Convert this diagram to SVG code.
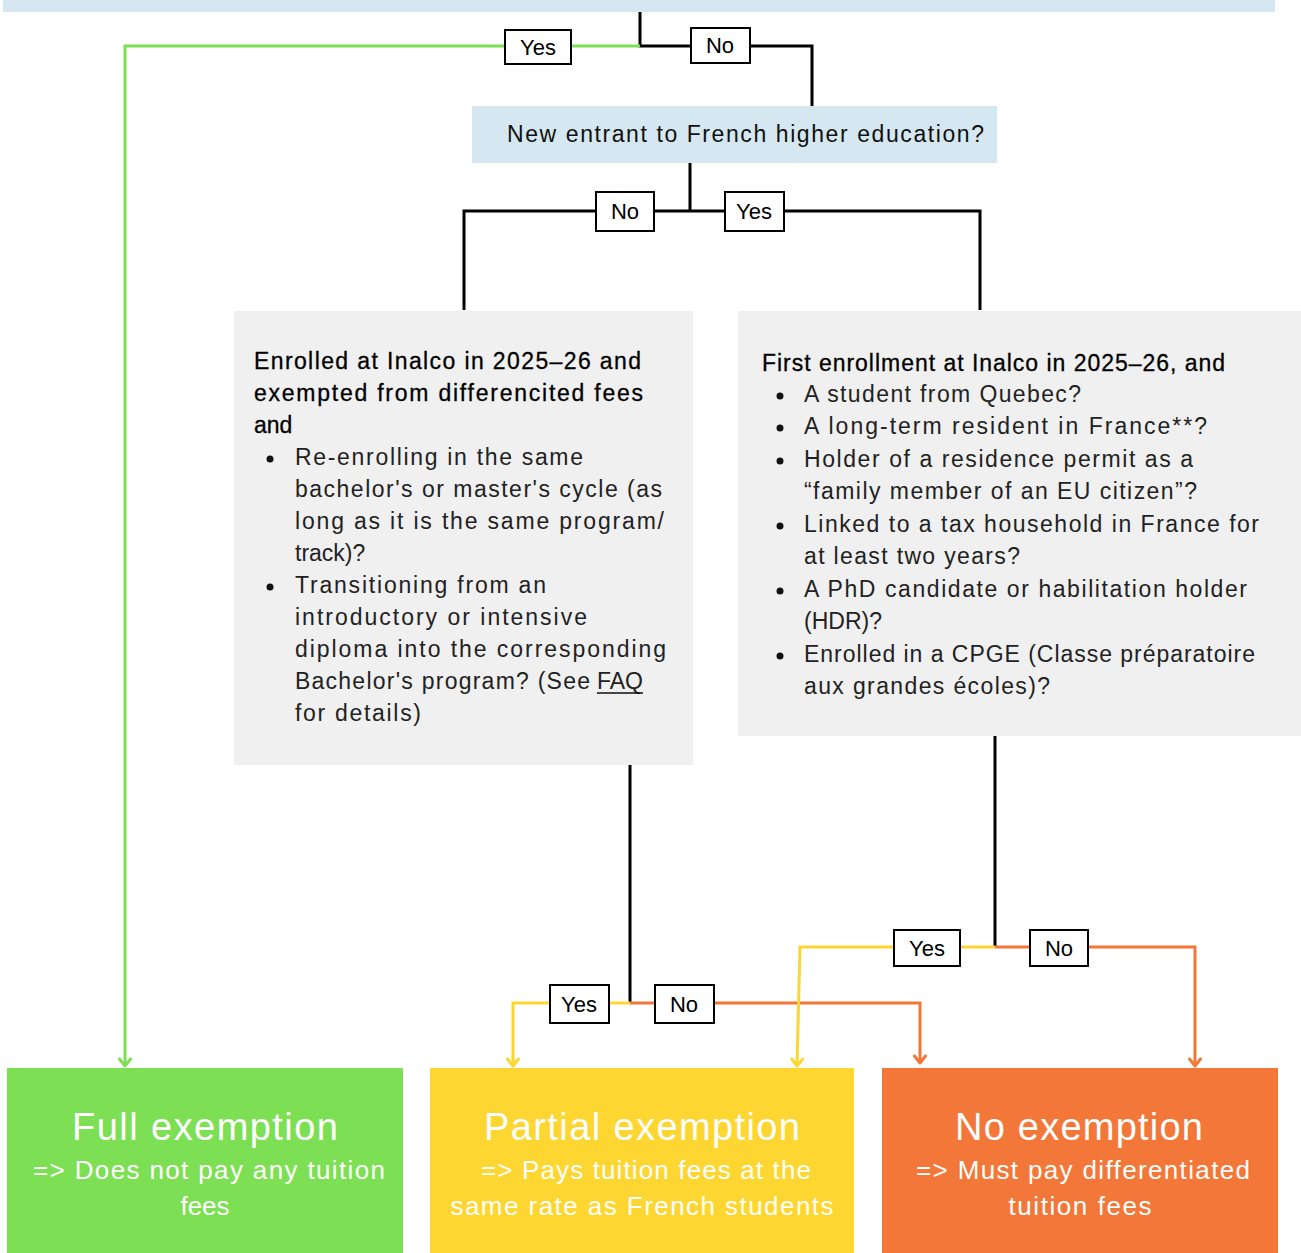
<svg xmlns="http://www.w3.org/2000/svg" width="1301" height="1253" viewBox="0 0 1301 1253">
<style>
  text { font-family: "Liberation Sans", Arial, sans-serif; }
  .q { fill: #d5e7f0; }
  .g { fill: #f0f0f0; }
  .t { font-size: 23px; fill: #111; }
  .h { font-size: 23px; fill: #000; stroke: #000; stroke-width: 0.3; }
  .b { font-size: 23px; fill: #222; }
  .lbl rect { fill: #fff; stroke: #000; stroke-width: 2; }
  .lbl text { font-size: 22px; fill: #000; text-anchor: middle; }
  .k { fill: none; stroke: #000; stroke-width: 3; }
  .cg { fill: none; stroke: #7ddf53; stroke-width: 3; }
  .cy { fill: none; stroke: #fed631; stroke-width: 3; }
  .co { fill: none; stroke: #f37739; stroke-width: 3; }
  .title { font-size: 38px; fill: #fff; text-anchor: middle; }
  .sub { font-size: 26px; fill: #fff; text-anchor: middle; }
</style>
<defs>
  <marker id="ag" viewBox="-9 -7 11 14" refX="0" refY="0" markerWidth="11" markerHeight="14" markerUnits="userSpaceOnUse" orient="auto">
    <path d="M-7,-5.5 L0,0 L-7,5.5" fill="none" stroke="#7ddf53" stroke-width="3" stroke-linecap="round" stroke-linejoin="round"/>
  </marker>
  <marker id="ay" viewBox="-9 -7 11 14" refX="0" refY="0" markerWidth="11" markerHeight="14" markerUnits="userSpaceOnUse" orient="auto">
    <path d="M-7,-5.5 L0,0 L-7,5.5" fill="none" stroke="#fed631" stroke-width="3" stroke-linecap="round" stroke-linejoin="round"/>
  </marker>
  <marker id="ao" viewBox="-9 -7 11 14" refX="0" refY="0" markerWidth="11" markerHeight="14" markerUnits="userSpaceOnUse" orient="auto">
    <path d="M-7,-5.5 L0,0 L-7,5.5" fill="none" stroke="#f37739" stroke-width="3" stroke-linecap="round" stroke-linejoin="round"/>
  </marker>
</defs>
<rect width="1301" height="1253" fill="#fff"/>

<g id="q0">
  <rect class="q" x="3" y="0" width="1272" height="12"/>
</g>

<g id="q1">
  <rect class="q" x="472" y="106" width="525" height="57"/>
  <text class="t" x="507" y="142" textLength="477">New entrant to French higher education?</text>
</g>

<g id="q2">
  <rect class="g" x="234" y="311" width="459" height="454"/>
  <text class="h" x="254" y="369" textLength="387">Enrolled at Inalco in 2025–26 and</text>
  <text class="h" x="254" y="401" textLength="389">exempted from differencited fees</text>
  <text class="h" x="254" y="433">and</text>
  <circle cx="270" cy="459" r="3.5" fill="#111"/>
  <text class="b" x="295" y="465" textLength="288">Re-enrolling in the same</text>
  <text class="b" x="295" y="497" textLength="367">bachelor's or master's cycle (as</text>
  <text class="b" x="295" y="529" textLength="369">long as it is the same program/</text>
  <text class="b" x="295" y="561">track)?</text>
  <circle cx="270" cy="587" r="3.5" fill="#111"/>
  <text class="b" x="295" y="593" textLength="251">Transitioning from an</text>
  <text class="b" x="295" y="625" textLength="292">introductory or intensive</text>
  <text class="b" x="295" y="657" textLength="371">diploma into the corresponding</text>
  <text class="b" x="295" y="689" textLength="295">Bachelor's program? (See</text>
  <text class="b" x="597" y="689">FAQ</text>
  <line x1="597" y1="693" x2="643" y2="693" stroke="#111" stroke-width="1.5"/>
  <text class="b" x="295" y="721" textLength="126">for details)</text>
</g>

<g id="q3">
  <rect class="g" x="738" y="311" width="563" height="425"/>
  <text class="h" x="762" y="371" textLength="463">First enrollment at Inalco in 2025–26, and</text>
  <circle cx="780" cy="396" r="3.5" fill="#111"/>
  <text class="b" x="804" y="402" textLength="277">A student from Quebec?</text>
  <circle cx="780" cy="428" r="3.5" fill="#111"/>
  <text class="b" x="804" y="434" textLength="403">A long-term resident in France**?</text>
  <circle cx="780" cy="461" r="3.5" fill="#111"/>
  <text class="b" x="804" y="467" textLength="389">Holder of a residence permit as a</text>
  <text class="b" x="804" y="499" textLength="393">“family member of an EU citizen”?</text>
  <circle cx="780" cy="526" r="3.5" fill="#111"/>
  <text class="b" x="804" y="532" textLength="455">Linked to a tax household in France for</text>
  <text class="b" x="804" y="564" textLength="216">at least two years?</text>
  <circle cx="780" cy="591" r="3.5" fill="#111"/>
  <text class="b" x="804" y="597" textLength="443">A PhD candidate or habilitation holder</text>
  <text class="b" x="804" y="629">(HDR)?</text>
  <circle cx="780" cy="656" r="3.5" fill="#111"/>
  <text class="b" x="804" y="662" textLength="451">Enrolled in a CPGE (Classe préparatoire</text>
  <text class="b" x="804" y="694" textLength="246">aux grandes écoles)?</text>
</g>

<g id="r-full">
  <rect x="7" y="1068" width="396" height="185" fill="#7ddf53"/>
  <text class="title" x="205" y="1140" textLength="266">Full exemption</text>
  <text class="sub" x="209" y="1179" textLength="352">=&gt; Does not pay any tuition</text>
  <text class="sub" x="205" y="1215">fees</text>
</g>

<g id="r-partial">
  <rect x="430" y="1068" width="424" height="185" fill="#fed631"/>
  <text class="title" x="642" y="1140" textLength="316">Partial exemption</text>
  <text class="sub" x="646" y="1179" textLength="330">=&gt; Pays tuition fees at the</text>
  <text class="sub" x="642" y="1215" textLength="383">same rate as French students</text>
</g>

<g id="r-none">
  <rect x="882" y="1068" width="396" height="185" fill="#f37739"/>
  <text class="title" x="1079" y="1140" textLength="248">No exemption</text>
  <text class="sub" x="1083" y="1179" textLength="334">=&gt; Must pay differentiated</text>
  <text class="sub" x="1080" y="1215" textLength="143">tuition fees</text>
</g>

<g id="connectors">
  <path class="k" d="M640,12 V46 H812 V106"/>
  <path class="cg" d="M640,46 H125 V1066" marker-end="url(#ag)"/>
  <path class="k" d="M690,163 V211"/>
  <path class="k" d="M464,310 V211 H980 V310"/>
  <path class="k" d="M630,765 V1003"/>
  <path class="cy" d="M630,1003 H513 V1066" marker-end="url(#ay)"/>
  <path class="co" d="M630,1003 H920 V1063" marker-end="url(#ao)"/>
  <path class="k" d="M995,736 V947"/>
  <path class="cy" d="M995,947 H800 L797,1066" marker-end="url(#ay)"/>
  <path class="co" d="M995,947 H1195 V1066" marker-end="url(#ao)"/>

  <g class="lbl"><rect x="505" y="30" width="66" height="34"/><text x="538" y="55">Yes</text></g>
  <g class="lbl"><rect x="691" y="28" width="59" height="35"/><text x="720" y="53">No</text></g>
  <g class="lbl"><rect x="596" y="192" width="58" height="39"/><text x="625" y="219">No</text></g>
  <g class="lbl"><rect x="725" y="192" width="59" height="39"/><text x="754" y="219">Yes</text></g>
  <g class="lbl"><rect x="550" y="985" width="59" height="38"/><text x="579" y="1012">Yes</text></g>
  <g class="lbl"><rect x="655" y="985" width="59" height="38"/><text x="684" y="1012">No</text></g>
  <g class="lbl"><rect x="894" y="930" width="66" height="36"/><text x="927" y="956">Yes</text></g>
  <g class="lbl"><rect x="1030" y="930" width="58" height="36"/><text x="1059" y="956">No</text></g>
</g>
</svg>
